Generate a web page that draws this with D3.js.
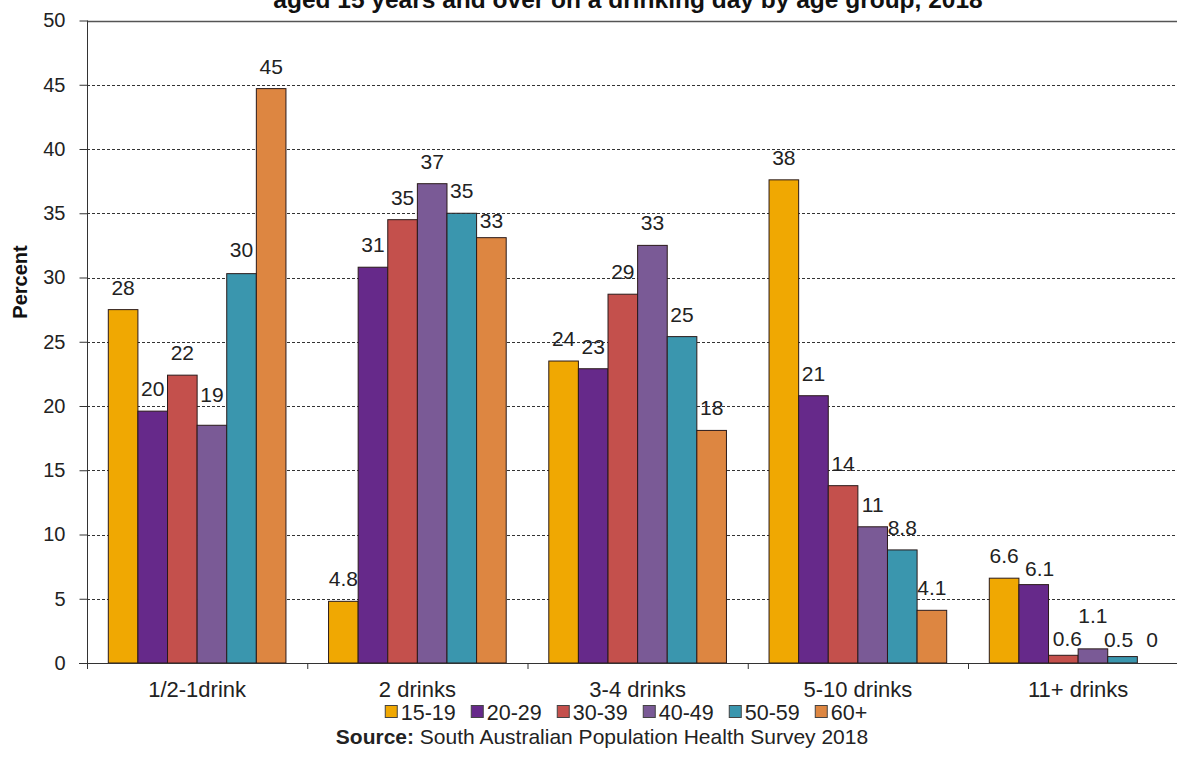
<!DOCTYPE html>
<html>
<head>
<meta charset="utf-8">
<script src="https://cdn.jsdelivr.net/npm/d3@7"></script>
<style>
  html, body { margin: 0; padding: 0; background: #fff; }
  svg { display: block; font-family: Arial, "Liberation Sans", sans-serif; }
</style>
</head>
<body>
<svg id="chart" width="1177" height="762"></svg>
<script>
// ---- data ----
const categories = ["1/2-1drink", "2 drinks", "3-4 drinks", "5-10 drinks", "11+ drinks"];
const seriesNames = ["15-19", "20-29", "30-39", "40-49", "50-59", "60+"];
const s15_19 = [27.5, 4.8, 23.5, 37.6, 6.6];
const s20_29 = [19.6, 30.8, 22.9, 20.8, 6.1];
const s30_39 = [22.4, 34.5, 28.7, 13.8, 0.6];
const s40_49 = [18.5, 37.3, 32.5, 10.6, 1.1];
const s50_59 = [30.3, 35.0, 25.4, 8.8, 0.5];
const s60plus = [44.7, 33.1, 18.1, 4.1, 0];
const yTicks = [0, 5, 10, 15, 20, 25, 30, 35, 40, 45, 50];
const titleText = "aged 15 years and over on a drinking day by age group, 2018";
const sourceLabel = "Source:";
const sourceText = " South Australian Population Health Survey 2018";

const seriesValues = [s15_19, s20_29, s30_39, s40_49, s50_59, s60plus];
const colors = ["#F0A802", "#66298A", "#C4504C", "#7A5A96", "#3A96AE", "#DD8641"];

// label nudges (layout only): key "catIndex-seriesIndex" -> [dx, dy]
const labelNudge = {
  "0-3": [0, -8], "0-4": [0, -2], "1-5": [0, 5],
  "4-1": [6, 6], "4-2": [4, 6], "4-3": [0, -11], "4-4": [-4, 5], "4-5": [0, -1]
};

function fmt(v) {
  if (v === 0) return "0";
  if (v < 10) return v.toFixed(1);
  return String(Math.round(v));
}

const svg = d3.select("#chart");
const W = 1177, H = 762;
svg.append("rect").attr("width", W).attr("height", H).attr("fill", "#fff");

const left = 87, catW = 220.25;
const plotRight = left + catW * categories.length;
const y = d3.scaleLinear().domain([0, 50]).range([663, 20.5]);
const x0 = d3.scaleBand().domain(categories).range([left, plotRight]).padding(0);
const x1 = d3.scaleBand().domain(seriesNames).range([21.3, catW - 21.3]).padding(0);

// gridlines
svg.append("g").selectAll("line").data(yTicks.filter(t => t > 0)).join("line")
  .attr("x1", left).attr("x2", W)
  .attr("y1", d => Math.round(y(d)) + 0.5).attr("y2", d => Math.round(y(d)) + 0.5)
  .attr("stroke", d => d === 50 ? "#555" : "#333")
  .attr("stroke-width", d => d === 50 ? 1.6 : 1)
  .attr("stroke-dasharray", d => d === 50 ? null : "3,2");

// y axis
const yAxis = d3.axisLeft(y).tickValues(yTicks).tickSize(8).tickPadding(14);
const gy = svg.append("g").attr("transform", `translate(${left + 0.5},0)`).call(yAxis);
gy.select(".domain").remove();
gy.selectAll(".tick line").attr("stroke", "#333");
gy.selectAll(".tick text").attr("font-size", 20).attr("fill", "#222")
  .attr("font-family", "Arial, 'Liberation Sans', sans-serif");
svg.append("line").attr("x1", left + 0.5).attr("x2", left + 0.5)
  .attr("y1", y(50)).attr("y2", y(0) + 6).attr("stroke", "#333");

// bars
const groups = svg.append("g").selectAll("g").data(categories).join("g")
  .attr("transform", d => `translate(${x0(d)},0)`);
groups.each(function (cat, ci) {
  const g = d3.select(this);
  const rows = seriesNames.map((s, si) => ({ s, si, v: seriesValues[si][ci], ci }));
  g.selectAll("rect").data(rows).join("rect")
    .attr("x", d => x1(d.s))
    .attr("y", d => y(d.v))
    .attr("width", x1.bandwidth())
    .attr("height", d => y(0) - y(d.v))
    .attr("fill", (d) => colors[d.si])
    .attr("stroke", "#2a1a1a").attr("stroke-width", 1);
  g.selectAll("text").data(rows).join("text")
    .attr("x", d => x1(d.s) + x1.bandwidth() / 2 + ((labelNudge[ci + "-" + d.si] || [0, 0])[0]))
    .attr("y", d => y(d.v) - 15 + ((labelNudge[ci + "-" + d.si] || [0, 0])[1]))
    .attr("text-anchor", "middle").attr("font-size", 21).attr("fill", "#222")
    .text(d => fmt(d.v));
});

// x axis
svg.append("line").attr("x1", left - 8).attr("x2", W)
  .attr("y1", y(0) + 0.5).attr("y2", y(0) + 0.5).attr("stroke", "#333");
svg.append("g").selectAll("line").data(d3.range(categories.length + 1)).join("line")
  .attr("x1", i => left + i * catW + 0.5).attr("x2", i => left + i * catW + 0.5)
  .attr("y1", y(0)).attr("y2", y(0) + 6).attr("stroke", "#333");
svg.append("g").selectAll("text").data(categories).join("text")
  .attr("x", d => x0(d) + catW / 2).attr("y", 697)
  .attr("text-anchor", "middle").attr("font-size", 22).attr("fill", "#222")
  .text(d => d);

// axis title
svg.append("text").attr("transform", "translate(27,282) rotate(-90)")
  .attr("text-anchor", "middle").attr("font-size", 20).attr("font-weight", "bold")
  .attr("fill", "#111").text("Percent");

// title (partially cut off at top)
svg.append("text").attr("x", 628).attr("y", 8).attr("text-anchor", "middle")
  .attr("font-size", 24.5).attr("font-weight", "bold").attr("fill", "#111").text(titleText);

// legend
const legend = svg.append("g");
let lx = 0;
seriesNames.forEach((s, i) => {
  const item = legend.append("g").attr("transform", `translate(${lx},0)`);
  item.append("rect").attr("x", 0.5).attr("y", -14.5).attr("width", 12).attr("height", 12)
    .attr("fill", colors[i]).attr("stroke", "#444").attr("stroke-width", 1);
  const t = item.append("text").attr("x", 16).attr("y", 0).attr("font-size", 21.5)
    .attr("fill", "#222").text(s);
  lx += 16 + t.node().getComputedTextLength() + 15;
});
const legW = lx - 15;
legend.attr("transform", `translate(${626 - legW / 2},720)`);

// source
const src = svg.append("text").attr("x", 602).attr("y", 744).attr("text-anchor", "middle")
  .attr("font-size", 21).attr("fill", "#222");
src.append("tspan").attr("font-weight", "bold").text(sourceLabel);
src.append("tspan").text(sourceText);
</script>
</body>
</html>
